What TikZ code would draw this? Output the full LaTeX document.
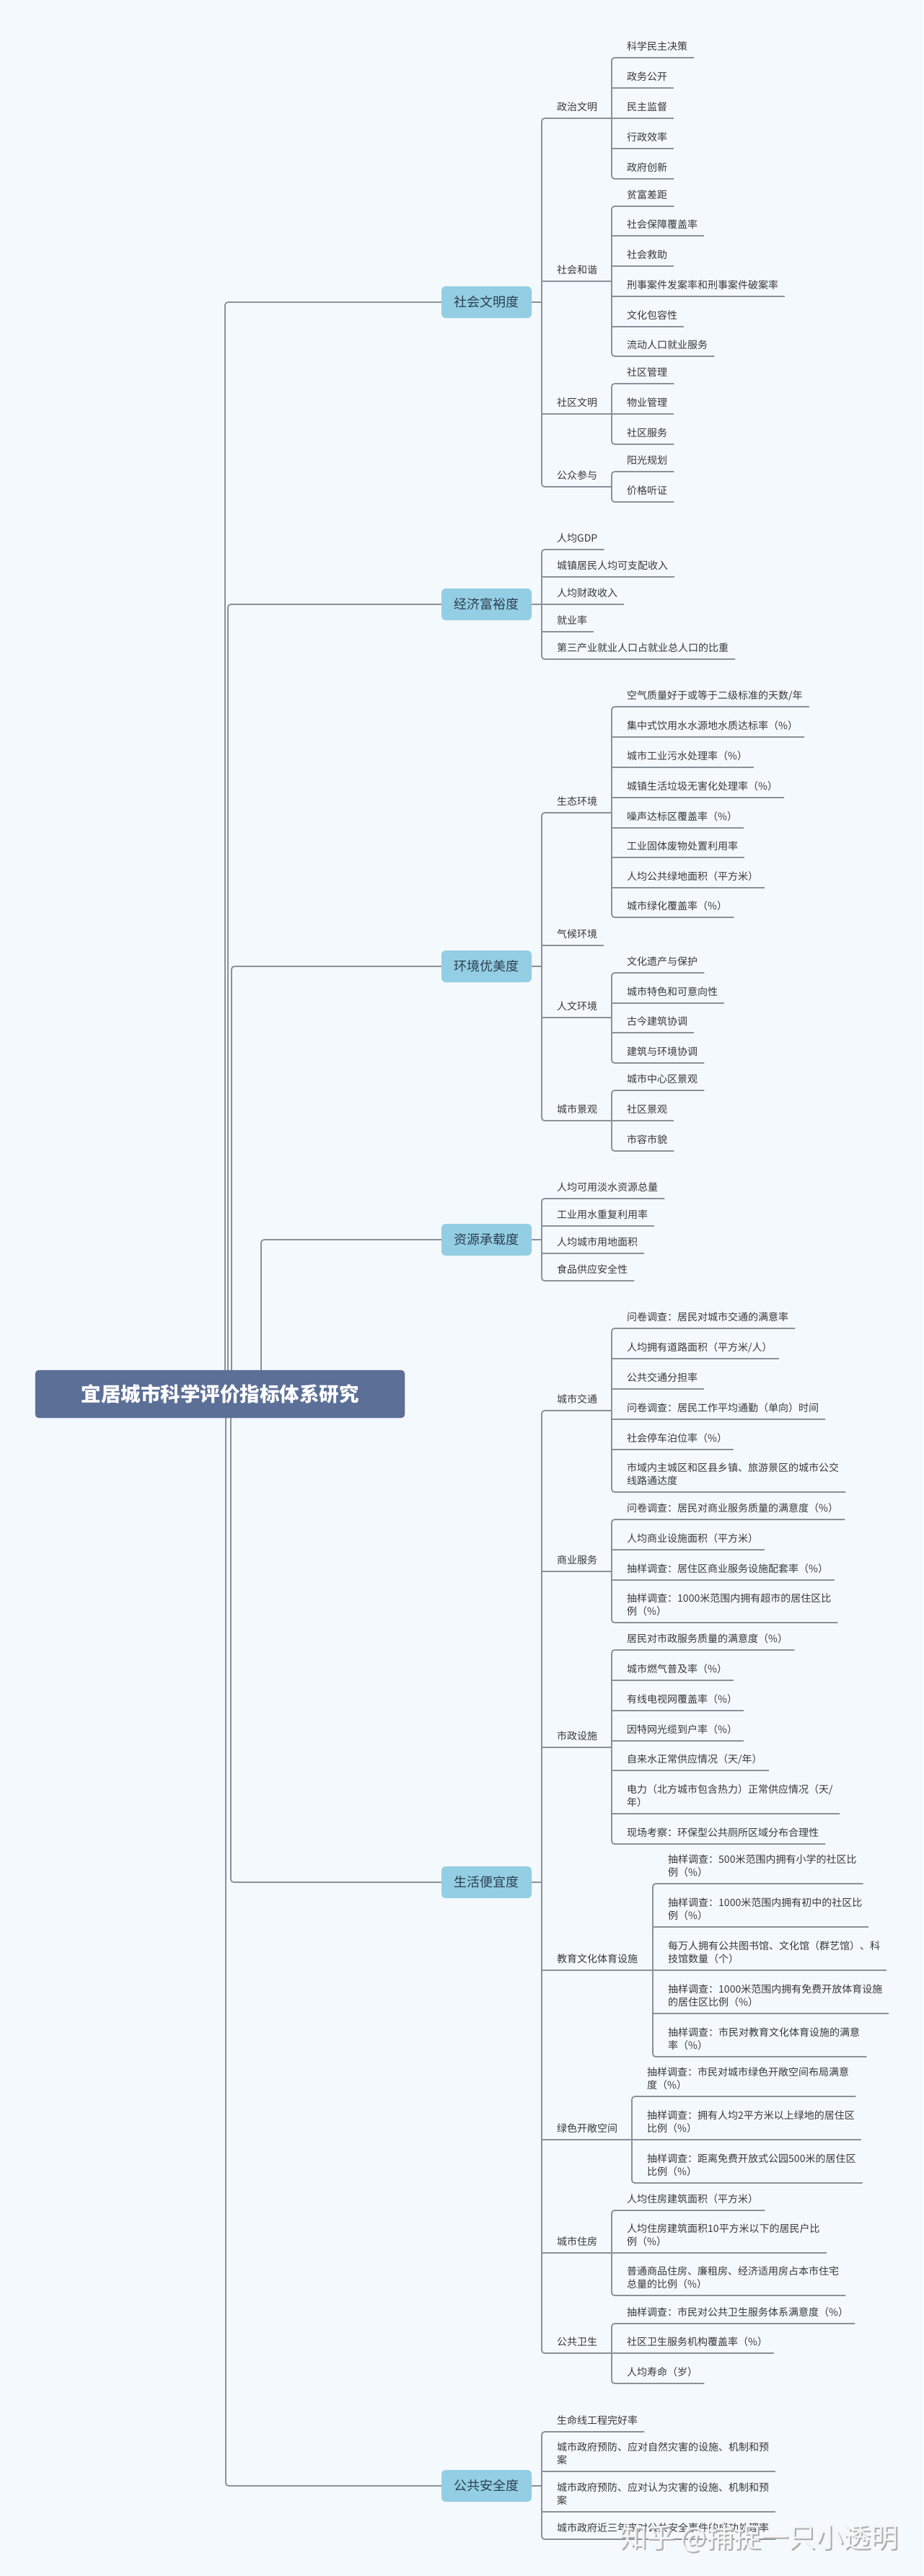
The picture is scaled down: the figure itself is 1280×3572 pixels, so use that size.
\documentclass[tikz,border=0pt]{standalone}
\usepackage{fontspec}
\setmainfont{Noto Sans CJK SC}
\definecolor{paper}{HTML}{F4F9FD}
\definecolor{linegray}{HTML}{8A919B}
\definecolor{topicblue}{HTML}{93CEE4}
\definecolor{rootblue}{HTML}{5B6F97}
\definecolor{inkgray}{HTML}{383838}
\definecolor{topicink}{HTML}{2E3E4E}

\newcommand{\lfstrut}{\rule[-3pt]{0pt}{3pt}}

\tikzset{
  branch/.style={draw=linegray, line width=1.8pt, rounded corners=4pt},
  leaf/.style={anchor=south west, inner xsep=9pt, inner ysep=7pt, align=left,
    text=inkgray, font=\fontsize{14}{18}\selectfont},
  topic/.style={fill=topicblue, rounded corners=6pt, minimum width=125pt,
    minimum height=44pt, inner sep=0pt, text=topicink, font=\fontsize{18}{22}\selectfont},
  rootnode/.style={fill=rootblue, draw=rootblue!85!black, rounded corners=5pt,
    minimum width=512pt, minimum height=66pt, text=white, font=\fontsize{27.5}{32}\selectfont\bfseries},
  wmark/.style={font=\fontsize{38}{42}\selectfont, inner sep=0pt}
}

% leaves hung on a bar: name, bar x, count, {text}/y
\newcommand{\leafgroup}[4]{%
  \foreach \l/\y [count=\i] in {#4}{
    \node[leaf] (#1-\i) at (#2+12,\y) {\l\lfstrut};
    \coordinate (#1-\i-b) at (#2,\y);
    \ifnum\i>1 \ifnum\i<#3
      \draw[branch] (#1-\i-b) -- (#1-\i.south east);
    \fi\fi
  }
  \draw[branch] (#1-1.south east) -- (#1-1-b) -- (#1-#3-b) -- (#1-#3.south east);
}

% sub topics: name, bar x, count, {text}/y/end x
\newcommand{\subgroup}[4]{%
  \foreach \l/\y/\e [count=\i] in {#4}{
    \node[leaf] (#1-\i) at (#2+12,\y) {\l\lfstrut};
    \coordinate (#1-\i-b) at (#2,\y);
    \coordinate (#1-\i-e) at (\e,\y);
    \ifnum\i>1 \ifnum\i<#3
      \draw[branch] (#1-\i-b) -- (#1-\i-e);
    \fi\fi
  }
  \draw[branch] (#1-1-e) -- (#1-1-b) -- (#1-#3-b) -- (#1-#3-e);
}

\begin{document}
\begin{tikzpicture}[x=1pt,y=-1pt]
  \fill[paper] (0,0) rectangle (1280,3572);
  \useasboundingbox (0,0) rectangle (1280,3572);

  \coordinate (rootc) at (305,1933);

  % main topics, each with its own elbow from the root
  \foreach \l/\y/\x [count=\k] in {
    社会文明度/419/312,
    经济富裕度/838/316,
    环境优美度/1340/321,
    资源承载度/1719/362,
    生活便宜度/2610/320,
    公共安全度/3447/313
  }
  {
    \node[topic] (t\k) at (674.5,\y) {\l};
    \coordinate (tr\k) at (\x,\y);
    \coordinate (j\k) at (751,\y);
    \draw[branch] (rootc) -| (tr\k) -- (t\k.west);
    \draw[branch] (t\k.east) -- (j\k);
  }
  \node[rootnode] (root) at (rootc) {宜居城市科学评价指标体系研究};

  % 社会文明度
  \subgroup{s1}{751}{4}{政治文明/164/848, 社会和谐/390/848, 社区文明/574/848, 公众参与/675/848}
  \leafgroup{s1a}{848}{5}{科学民主决策/80, 政务公开/122, 民主监督/164, 行政效率/206, 政府创新/248}
  \leafgroup{s1b}{848}{6}{贫富差距/286, 社会保障覆盖率/327, 社会救助/369,
    刑事案件发案率和刑事案件破案率/411, 文化包容性/453, 流动人口就业服务/494}
  \leafgroup{s1c}{848}{3}{社区管理/532, 物业管理/574, 社区服务/616}
  \leafgroup{s1d}{848}{2}{阳光规划/654, 价格听证/696}

  % 经济富裕度
  \leafgroup{s2}{751}{5}{人均GDP/762, 城镇居民人均可支配收入/800, 人均财政收入/838,
    就业率/876, 第三产业就业人口占就业总人口的比重/914}

  % 环境优美度
  \subgroup{s3}{751}{4}{生态环境/1127/848, 气候环境/1311/837, 人文环境/1411/848, 城市景观/1554/848}
  \leafgroup{s3a}{848}{8}{{空气质量好于或等于二级标准的天数/年}/980,
    集中式饮用水水源地水质达标率（\%）/1022, 城市工业污水处理率（\%）/1064,
    城镇生活垃圾无害化处理率（\%）/1106, 噪声达标区覆盖率（\%）/1148,
    工业固体废物处置利用率/1189, 人均公共绿地面积（平方米）/1231, 城市绿化覆盖率（\%）/1272}
  \leafgroup{s3c}{848}{4}{文化遗产与保护/1349, 城市特色和可意向性/1391, 古今建筑协调/1432, 建筑与环境协调/1474}
  \leafgroup{s3d}{848}{3}{城市中心区景观/1512, 社区景观/1554, 市容市貌/1596}

  % 资源承载度
  \leafgroup{s4}{751}{4}{人均可用淡水资源总量/1662, 工业用水重复利用率/1700, 人均城市用地面积/1738, 食品供应安全性/1776}

  % 生活便宜度
  \subgroup{s5}{751}{7}{城市交通/1956/848, 商业服务/2179/848, 市政设施/2423/848,
    教育文化体育设施/2732/905, 绿色开敞空间/2967/876, 城市住房/3124/848, 公共卫生/3263/848}
  \leafgroup{s5a}{848}{6}{问卷调查：居民对城市交通的满意率/1842, {人均拥有道路面积（平方米/人）}/1884,
    公共交通分担率/1926, 问卷调查：居民工作平均通勤（单向）时间/1968, 社会停车泊位率（\%）/2010,
    {市域内主城区和区县乡镇、旅游景区的城市公交\\线路通达度}/2069}
  \leafgroup{s5b}{848}{4}{问卷调查：居民对商业服务质量的满意度（\%）/2107, 人均商业设施面积（平方米）/2149,
    抽样调查：居住区商业服务设施配套率（\%）/2191, {抽样调查：1000米范围内拥有超市的居住区比\\例（\%）}/2250}
  \leafgroup{s5c}{848}{7}{居民对市政服务质量的满意度（\%）/2288, 城市燃气普及率（\%）/2330,
    有线电视网覆盖率（\%）/2372, 因特网光缆到户率（\%）/2414, {自来水正常供应情况（天/年）}/2455,
    {电力（北方城市包含热力）正常供应情况（天/\\年）}/2515, 现场考察：环保型公共厕所区域分布合理性/2557}
  \leafgroup{s5d}{905}{5}{{抽样调查：500米范围内拥有小学的社区比\\例（\%）}/2612,
    {抽样调查：1000米范围内拥有初中的社区比\\例（\%）}/2672,
    {每万人拥有公共图书馆、文化馆（群艺馆）、科\\技馆数量（个）}/2732,
    {抽样调查：1000米范围内拥有免费开放体育设施\\的居住区比例（\%）}/2792,
    {抽样调查：市民对教育文化体育设施的满意\\率（\%）}/2852}
  \leafgroup{s5e}{876}{3}{{抽样调查：市民对城市绿色开敞空间布局满意\\度（\%）}/2907,
    {抽样调查：拥有人均2平方米以上绿地的居住区\\比例（\%）}/2967,
    {抽样调查：距离免费开放式公园500米的居住区\\比例（\%）}/3027}
  \leafgroup{s5f}{848}{3}{人均住房建筑面积（平方米）/3065,
    {人均住房建筑面积10平方米以下的居民户比\\例（\%）}/3124,
    {普通商品住房、廉租房、经济适用房占本市住宅\\总量的比例（\%）}/3183}
  \leafgroup{s5g}{848}{3}{抽样调查：市民对公共卫生服务体系满意度（\%）/3222,
    社区卫生服务机构覆盖率（\%）/3263, 人均寿命（岁）/3305}

  % 公共安全度
  \leafgroup{s6}{751}{4}{生命线工程完好率/3372,
    {城市政府预防、应对自然灾害的设施、机制和预\\案}/3427,
    {城市政府预防、应对认为灾害的设施、机制和预\\案}/3483,
    城市政府近三年来对公共安全事件的成功处理率/3521}

  % watermark
  \node[wmark, text=gray!65] (markshade) at (1054.5,3521.5) {知乎 @捕捉一只小透明};
  \node[wmark, text=white!92!gray] (mark) at (1052.5,3519.5) {知乎 @捕捉一只小透明};
\end{tikzpicture}
\end{document}
